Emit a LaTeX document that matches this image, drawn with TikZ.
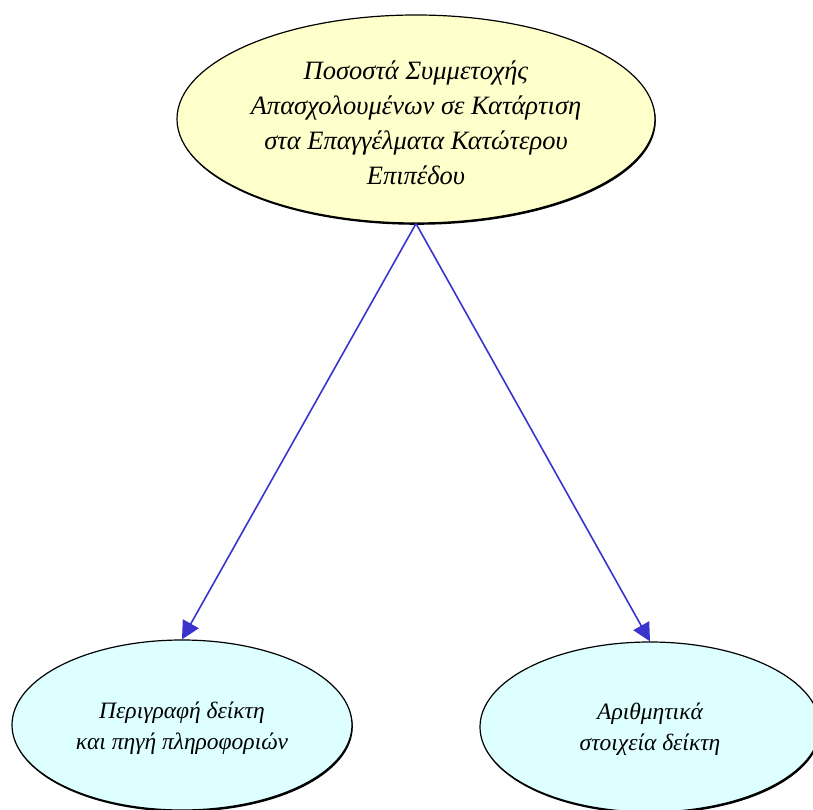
\documentclass[tikz,border=0pt]{standalone}
\usepackage{fontspec}
\setmainfont{Liberation Serif}
\usetikzlibrary{shapes.geometric,arrows.meta,shadows}
\definecolor{topfill}{HTML}{FFFFCC}
\definecolor{botfill}{HTML}{DDFFFF}
\definecolor{arrowblue}{HTML}{3A34CC}
\newcommand{\lowered}[2]{\raisebox{-#1}[\height][\depth]{\begin{tabular}{@{}c@{}}#2\end{tabular}}}
\begin{document}
\begin{tikzpicture}[x=1pt,y=-1pt,
  bubble/.style={ellipse, draw=black, line width=1.2pt, inner sep=0pt,
     drop shadow={shadow xshift=0.8pt, shadow yshift=-1.8pt, fill=black, opacity=1},
     align=center},
  link/.style={draw=arrowblue, line width=1.6pt, -{Triangle[length=18pt,width=18pt]}}]
\useasboundingbox (0,0) rectangle (813,810);
\node[bubble, fill=topfill, minimum width=478pt, minimum height=208pt,
  font=\itshape\fontsize{26.5}{35}\selectfont] (top) at (416,119)
  {\lowered{6pt}{Ποσοστά Συμμετοχής\\Απασχολουμένων σε Κατάρτιση\\στα Επαγγέλματα Κατώτερου\\Επιπέδου}};
\node[bubble, fill=botfill, minimum width=340pt, minimum height=170pt,
  font=\itshape\fontsize{23.5}{31}\selectfont] (left) at (182,725)
  {\lowered{3pt}{Περιγραφή δείκτη\\και πηγή πληροφοριών}};
\node[bubble, fill=botfill, minimum width=340pt, minimum height=170pt,
  font=\itshape\fontsize{23.5}{31}\selectfont] (right) at (650,727)
  {\lowered{2pt}{Αριθμητικά\\στοιχεία δείκτη}};
\draw[link] (top.south) -- (left.north);
\draw[link] (top.south) -- (right.north);
\end{tikzpicture}
\end{document}
